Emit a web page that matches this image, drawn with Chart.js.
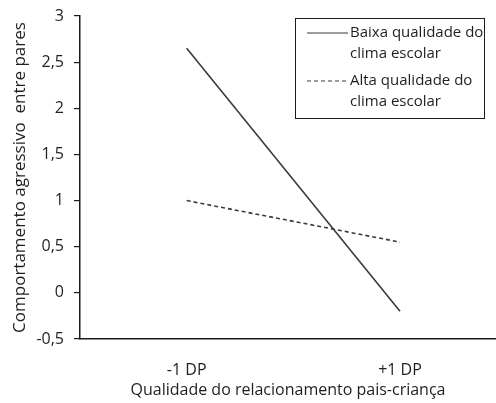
<!DOCTYPE html>
<html>
<head>
<meta charset="utf-8">
<script src="https://cdn.jsdelivr.net/npm/chart.js@4.4.0/dist/chart.umd.min.js"></script>
<style>
  html, body { margin: 0; padding: 0; background: #fff; }
  #wrap { width: 496px; height: 403px; }
</style>
</head>
<body>
<div id="wrap"><canvas id="c" width="496" height="403"></canvas></div>
<script>
// Moderation plot: peer aggression by parent-child relationship quality,
// at low and high school-climate quality.
const categories = ['-1 DP', '+1 DP'];
const categoryPositions = [0, 1];
const seriesNames = [
  ['Baixa qualidade do', 'clima escolar'],
  ['Alta qualidade do', 'clima escolar']
];
const lowClimate = [2.65, -0.2];
const highClimate = [1.0, 0.55];
const yTicks = [-0.5, 0, 0.5, 1, 1.5, 2, 2.5, 3];

const FONT = '"Open Sans", "Noto Sans", sans-serif';
const FS = 16;
const LEGEND_FS = 15;
const INK = '#1f1f1f';
const LINE = '#3a3a3a';

function toPoints(values) {
  return values.map((v, i) => ({ x: categoryPositions[i], y: v }));
}

// Framed legend box with two-line labels, drawn from the datasets' own styles
const boxLegend = {
  id: 'boxLegend',
  afterDraw(chart) {
    const ctx = chart.ctx;
    const x0 = 295.5, y0 = 18.5, w = 189, h = 100;
    ctx.save();
    ctx.strokeStyle = '#1a1a1a';
    ctx.lineWidth = 1;
    ctx.strokeRect(x0, y0, w, h);
    ctx.font = LEGEND_FS + 'px ' + FONT;
    ctx.fillStyle = INK;
    ctx.textBaseline = 'middle';
    const rows = [33, 81];
    chart.data.datasets.forEach((ds, i) => {
      const yy = rows[i];
      ctx.beginPath();
      ctx.strokeStyle = ds.borderColor;
      ctx.lineWidth = 1.2;
      ctx.setLineDash(ds.borderDash || []);
      ctx.moveTo(307, yy);
      ctx.lineTo(348, yy);
      ctx.stroke();
      ctx.setLineDash([]);
      seriesNames[i].forEach((txt, k) => {
        ctx.fillText(txt, 350, yy + k * 21);
      });
    });
    ctx.restore();
  }
};

new Chart(document.getElementById('c'), {
  type: 'line',
  data: {
    datasets: [
      {
        label: seriesNames[0].join(' '),
        data: toPoints(lowClimate),
        borderColor: LINE,
        borderWidth: 1.6,
        pointRadius: 0,
        fill: false,
        tension: 0
      },
      {
        label: seriesNames[1].join(' '),
        data: toPoints(highClimate),
        borderColor: LINE,
        borderWidth: 1.6,
        borderDash: [4, 3],
        pointRadius: 0,
        fill: false,
        tension: 0
      }
    ]
  },
  options: {
    responsive: false,
    animation: false,
    layout: { padding: { top: 16, right: 0, left: 0, bottom: 0 } },
    plugins: {
      legend: { display: false },
      tooltip: { enabled: false }
    },
    scales: {
      x: {
        type: 'linear',
        min: -0.5,
        max: 1.45,
        afterBuildTicks(scale) {
          scale.ticks = categoryPositions.map(v => ({ value: v }));
        },
        afterFit(scale) {
          scale.height = 64;
          scale.paddingLeft = 0;
          scale.paddingRight = 0;
        },
        grid: { display: false, drawTicks: false },
        border: { display: true, color: '#1a1a1a', width: 1.5 },
        ticks: {
          padding: 22,
          color: INK,
          font: { family: FONT, size: FS },
          callback: (v) => categories[categoryPositions.indexOf(v)] ?? ''
        },
        title: {
          display: true,
          text: 'Qualidade do relacionamento pais-criança',
          color: INK,
          font: { family: FONT, size: FS },
          padding: { top: 0, bottom: 3 }
        }
      },
      y: {
        min: -0.5,
        max: 3,
        afterBuildTicks(scale) {
          scale.ticks = yTicks.map(v => ({ value: v }));
        },
        afterFit(scale) {
          scale.width = 80;
          scale.paddingTop = 0;
          scale.paddingBottom = 0;
        },
        grid: {
          drawOnChartArea: false,
          drawTicks: true,
          tickLength: 6,
          color: '#1a1a1a',
          lineWidth: 1.2
        },
        border: { display: true, color: '#1a1a1a', width: 1.5 },
        ticks: {
          padding: 10,
          color: INK,
          font: { family: FONT, size: FS },
          callback: (v) => String(v).replace('.', ',')
        },
        title: {
          display: true,
          text: 'Comportamento agressivo  entre pares',
          color: INK,
          font: { family: FONT, size: 17 },
          padding: { top: 10, bottom: 0 }
        }
      }
    }
  },
  plugins: [boxLegend]
});
</script>
</body>
</html>
